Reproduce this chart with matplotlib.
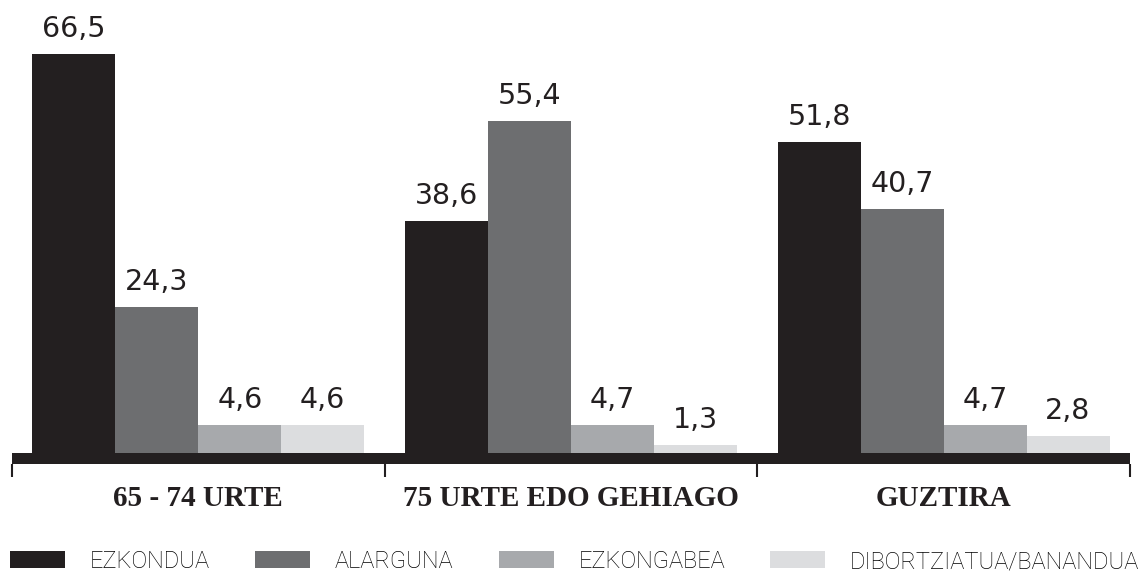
import matplotlib.pyplot as plt
import numpy as np
from matplotlib.patches import Patch

# datuak
taldeak = ['65 - 74 URTE', '75 URTE EDO GEHIAGO', 'GUZTIRA']
seriea = ['EZKONDUA', 'ALARGUNA', 'EZKONGABEA', 'DIBORTZIATUA/BANANDUA']
ezkondua = [66.5, 38.6, 51.8]
alarguna = [24.3, 55.4, 40.7]
ezkongabea = [4.6, 4.7, 4.7]
dibortziatua = [4.6, 1.3, 2.8]
koloreak = ['#231f20', '#6d6e70', '#a7a9ac', '#dcdddf']

W, H = 1138, 573
fig = plt.figure(figsize=(W / 100, H / 100), dpi=100)
ax = fig.add_axes([12 / W, 109 / H, 1118 / W, 461 / H])

x = np.arange(len(taldeak))
zabalera = 0.2225
balioak = [ezkondua, alarguna, ezkongabea, dibortziatua]
for i, (izena, b) in enumerate(zip(seriea, balioak)):
    pos = x + (i - 1.5) * zabalera
    ax.bar(pos, b, width=zabalera, color=koloreak[i], linewidth=0)
    for px, v in zip(pos, b):
        ax.annotate(('%.1f' % v).replace('.', ','), (px, v), xytext=(0, 12.2),
                    textcoords='offset points', ha='center', va='baseline',
                    fontsize=20.5, color='#231f20', family='DejaVu Sans')

# ardatz lodia
ax.axhspan(-1.833, 0, color='#231f20', lw=0)
ax.set_xlim(-0.5, 2.5)
ax.set_ylim(-1.833, 75)
for s in ax.spines.values():
    s.set_visible(False)
ax.set_yticks([])
ax.set_xticks([-0.5, 0.5, 1.5, 2.5])
ax.set_xticklabels([])
ax.tick_params(axis='x', length=9.4, width=1.5, color='#231f20', direction='out')

for xi, t in zip(x, taldeak):
    ax.text(xi, -8.85, t, ha='center', va='baseline', fontsize=21,
            family='Liberation Serif', fontweight='bold', color='#231f20')

eskuak = [Patch(facecolor=c, edgecolor='none') for c in koloreak]
fig.legend(eskuak, seriea, loc='lower left', bbox_to_anchor=(10 / W, 0),
           ncol=4, frameon=False, borderpad=0, borderaxespad=0,
           handlelength=2.33, handleheight=0.72, handletextpad=1.06,
           columnspacing=1.9,
           prop={'family': 'Roboto', 'weight': 'light', 'size': 17})

fig.savefig('out.png', dpi=100)
